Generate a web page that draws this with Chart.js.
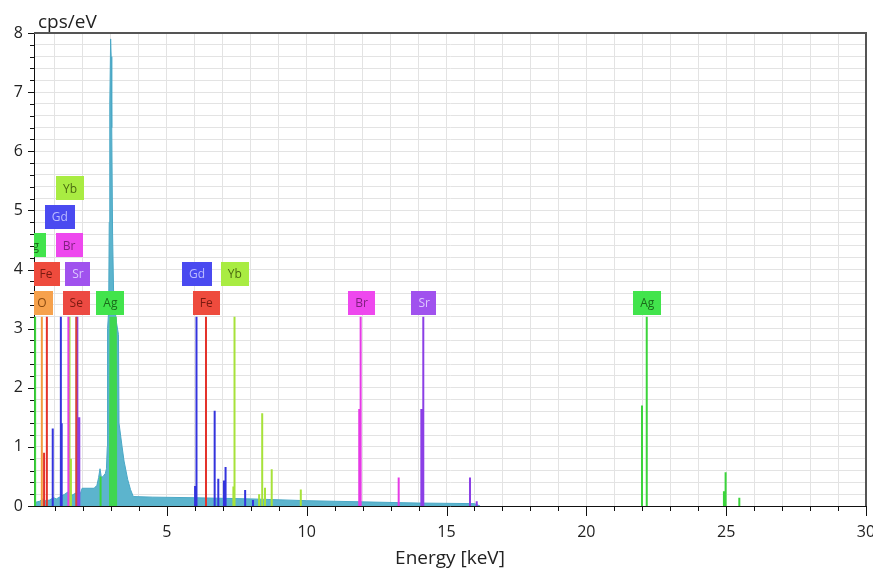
<!DOCTYPE html>
<html>
<head>
<meta charset="utf-8">
<script src="https://cdn.jsdelivr.net/npm/chart.js@4.4.1/dist/chart.umd.min.js"></script>
<style>
html, body { margin: 0; padding: 0; background: #fff; }
</style>
</head>
<body>
<canvas id="edx" width="873" height="571"></canvas>
<script>
// spectrum (teal)
var specE = [0.25, 0.28, 0.45, 0.55, 0.65, 0.80, 0.95, 1.05, 1.20, 1.35, 1.50, 1.60, 1.75, 1.90, 1.97, 2.40, 2.50, 2.56, 2.61, 2.66, 2.72, 2.80, 2.84, 2.87, 2.88, 2.92, 2.94, 2.96, 2.99, 3.01, 3.03, 3.06, 3.10, 3.20, 3.27, 3.29, 3.40, 3.47, 3.60, 3.70, 3.80, 4.5, 6.0, 8.0, 10.0, 12.0, 14.0, 16.0, 16.2];
var specY = [0, 0.06, 0.08, 0.12, 0.09, 0.10, 0.14, 0.12, 0.16, 0.20, 0.25, 0.18, 0.22, 0.20, 0.30, 0.30, 0.35, 0.48, 0.63, 0.48, 0.50, 0.55, 0.63, 1.0, 3.0, 3.3, 4.8, 6.8, 7.9, 7.6, 6.4, 4.6, 3.5, 3.1, 2.9, 1.4, 1.0, 0.76, 0.45, 0.28, 0.16, 0.15, 0.14, 0.12, 0.09, 0.07, 0.05, 0.04, 0];

// Ag L area (green) under the main peak
var agFitE = [2.93, 2.95, 3.21, 3.23];
var agFitY = [0, 3.2, 3.2, 0];

// element marker lines: energy [keV] and height
var oE = [0.53], oH = [3.2];
var feE = [0.61, 0.71, 6.40], feH = [0.9, 3.2, 3.2];
var seE = [1.76], seH = [3.2];
var srE = [1.80, 1.87, 14.10, 14.17, 15.84, 16.08], srH = [3.2, 1.5, 1.64, 3.2, 0.48, 0.08];
var brE = [1.48, 11.88, 11.93, 13.29], brH = [3.2, 1.64, 3.2, 0.48];
var gdE = [0.92, 1.21, 1.24, 6.01, 6.06, 6.71, 6.84, 7.04, 7.10, 7.80, 8.08];
var gdH = [1.31, 3.2, 1.4, 0.34, 3.2, 1.61, 0.46, 0.43, 0.66, 0.27, 0.1];
var ybE = [1.52, 1.57, 7.38, 7.42, 8.30, 8.41, 8.51, 8.75, 9.79];
var ybH = [3.2, 0.8, 0.33, 3.2, 0.2, 1.57, 0.31, 0.62, 0.28];
var agE = [0.29, 2.63, 21.99, 22.16, 24.92, 24.98, 25.47], agH = [3.2, 0.5, 1.70, 3.2, 0.25, 0.57, 0.14];

// element labels: name, energy, stacking row
var labelNames = ['O', 'Se', 'Ag', 'Fe', 'Sr', 'Ag', 'Br', 'Gd', 'Yb', 'Fe', 'Gd', 'Yb', 'Br', 'Sr', 'Ag'];
var labelE = [0.53, 1.76, 2.98, 0.68, 1.82, 0.18, 1.50, 1.17, 1.54, 6.41, 6.08, 7.43, 11.96, 14.20, 22.18];
var labelRow = [1, 1, 1, 2, 2, 3, 3, 4, 5, 1, 2, 2, 1, 1, 1];

var xTickLabels = [5, 10, 15, 20, 25, 30];
var yTickLabels = [0, 1, 2, 3, 4, 5, 6, 7, 8];

var lineColors = { O: '#f39a3e', Fe: '#e4322b', Se: '#d8403a', Sr: '#8b3fe6', Br: '#e63ae6', Gd: '#3434dd', Yb: '#a7e23a', Ag: '#3bd43b' };
var boxColors = { O: '#f6a14c', Fe: '#ee4b3d', Se: '#ec4a42', Sr: '#a052ee', Br: '#ee48ee', Gd: '#4a4af0', Yb: '#a9ec42', Ag: '#42e44c' };
var textColors = { O: '#8a4a10', Fe: '#7a1a10', Se: '#7a1a10', Sr: '#dcc8ff', Br: '#802080', Gd: '#bcbcff', Yb: '#4a6a10', Ag: '#1a6a1a' };

function points(es, ys) {
    return es.map(function (e, i) { return { x: e, y: ys[i] }; });
}
// each marker is a vertical segment from 0 to its height, separated by gaps
function segs(es, hs) {
    var out = [];
    es.forEach(function (e, i) {
        out.push({ x: e, y: 0 }, { x: e, y: hs[i] }, { x: e, y: null });
    });
    return out;
}
function markerSet(name, es, hs) {
    return {
        label: name, data: segs(es, hs), showLine: true, spanGaps: false,
        borderColor: lineColors[name], borderWidth: 2, pointRadius: 0, order: 1
    };
}

var xGrid = [];
for (var i = 1; i <= 30; i++) xGrid.push(i);
var yGrid = [];
for (var j = 0; j <= 40; j++) yGrid.push(Math.round(j * 2) / 10);

var decor = {
    id: 'decor',
    afterDatasetsDraw: function (chart) {
        var ctx = chart.ctx, a = chart.chartArea, x = chart.scales.x, y = chart.scales.y;
        ctx.save();
        ctx.beginPath();
        ctx.rect(a.left, a.top, a.right - a.left, a.bottom - a.top);
        ctx.clip();
        ctx.font = '12px "Open Sans"';
        ctx.textAlign = 'center';
        ctx.textBaseline = 'middle';
        for (var k = 0; k < labelNames.length; k++) {
            var el = labelNames[k];
            var cx = x.getPixelForValue(labelE[k]);
            var cy = y.getPixelForValue(3.44 + 0.483 * (labelRow[k] - 1));
            var w = ctx.measureText(el).width + 14, h = 24;
            ctx.fillStyle = boxColors[el];
            ctx.fillRect(Math.round(cx - w / 2), Math.round(cy - h / 2), Math.round(w), h);
            ctx.fillStyle = textColors[el];
            ctx.fillText(el, cx, cy + 1);
        }
        ctx.restore();
    },
    afterDraw: function (chart) {
        var ctx = chart.ctx, a = chart.chartArea, x = chart.scales.x, y = chart.scales.y;
        ctx.save();
        ctx.strokeStyle = '#111';
        ctx.lineWidth = 1;
        ctx.beginPath();
        yGrid.forEach(function (v) {
            var py = Math.round(y.getPixelForValue(v)) + 0.5;
            var len = Number.isInteger(v) ? 6 : 4;
            ctx.moveTo(a.left - len, py); ctx.lineTo(a.left, py);
        });
        xGrid.forEach(function (v) {
            var px = Math.round(x.getPixelForValue(v)) + 0.5;
            var len = v % 5 === 0 ? 10 : 5;
            ctx.moveTo(px, a.bottom); ctx.lineTo(px, a.bottom + len);
        });
        ctx.stroke();
        // frame top and right
        ctx.strokeStyle = '#555';
        ctx.lineWidth = 2;
        ctx.beginPath();
        ctx.moveTo(a.left, a.top); ctx.lineTo(a.right, a.top); ctx.lineTo(a.right, a.bottom);
        ctx.stroke();
        ctx.fillStyle = '#222';
        ctx.font = '19px "Open Sans"';
        ctx.textAlign = 'left';
        ctx.textBaseline = 'alphabetic';
        ctx.fillText('cps/eV', 38, 28);
        ctx.restore();
    }
};

var ctx = document.getElementById('edx').getContext('2d');
new Chart(ctx, {
    type: 'scatter',
    data: {
        datasets: [
            markerSet('O', oE, oH),
            markerSet('Fe', feE, feH),
            markerSet('Se', seE, seH),
            markerSet('Br', brE, brH),
            markerSet('Yb', ybE, ybH),
            markerSet('Sr', srE, srH),
            markerSet('Gd', gdE, gdH),
            markerSet('Ag', agE, agH),
            {
                label: 'Ag L', data: points(agFitE, agFitY), showLine: true, fill: 'origin',
                backgroundColor: '#3fd650', borderWidth: 0, pointRadius: 0, order: 2
            },
            {
                label: 'Spectrum', data: points(specE, specY), showLine: true, fill: 'origin',
                backgroundColor: '#5cb4cd', borderColor: '#4aa8c6', borderWidth: 1, pointRadius: 0, order: 3
            }
        ]
    },
    options: {
        responsive: false,
        animation: false,
        layout: { padding: { top: 33, right: 7, left: 0, bottom: 0 } },
        plugins: { legend: { display: false }, tooltip: { enabled: false } },
        scales: {
            x: {
                type: 'linear', min: 0.25, max: 30,
                afterBuildTicks: function (s) { s.ticks = xGrid.map(function (v) { return { value: v }; }); },
                afterFit: function (s) { s.height = 65; s.paddingRight = 0; s.paddingLeft = 0; },
                ticks: {
                    autoSkip: false, maxRotation: 0, padding: 17, color: '#222',
                    font: { family: 'Open Sans', size: 16 },
                    callback: function (v) { return xTickLabels.indexOf(v) >= 0 ? String(v) : ''; }
                },
                grid: { color: '#e3e3e3', drawTicks: false },
                border: { color: '#111', width: 1 },
                title: { display: true, text: 'Energy [keV]', color: '#222', font: { family: 'Open Sans', size: 19 }, padding: { top: 0, bottom: 1 } }
            },
            y: {
                min: 0, max: 8,
                afterBuildTicks: function (s) { s.ticks = yGrid.map(function (v) { return { value: v }; }); },
                afterFit: function (s) { s.width = 34; s.paddingTop = 0; s.paddingBottom = 0; },
                ticks: {
                    autoSkip: false, padding: 11, color: '#222',
                    font: { family: 'Open Sans', size: 16 },
                    callback: function (v) { return yTickLabels.indexOf(v) >= 0 ? String(v) : ''; }
                },
                grid: { color: '#e3e3e3', drawTicks: false },
                border: { color: '#111', width: 1 }
            }
        }
    },
    plugins: [decor]
});
</script>
</body>
</html>
